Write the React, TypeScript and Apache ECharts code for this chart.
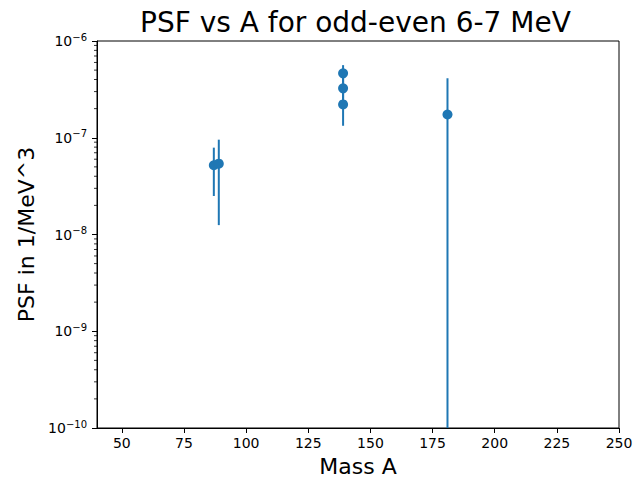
import React, { useEffect, useRef } from "react";
import * as echarts from "echarts";

const A_VALUES = [87, 89, 139, 139, 139, 181];
const PSF_VALUES = [5.2e-8, 5.4e-8, 4.63e-7, 3.24e-7, 2.21e-7, 1.74e-7];
const PSF_ERRORS = [2.7e-8, 4.15e-8, 1.0e-7, 0.95e-7, 0.88e-7, 2.37e-7];

const X_MIN = 40;
const X_MAX = 250;
const X_TICKS = [50, 75, 100, 125, 150, 175, 200, 225, 250];
const Y_DECADES = [-10, -9, -8, -7, -6];
const MINOR_MULTIPLIERS = [2, 3, 4, 5, 6, 7, 8, 9];

const BLUE = "#1f77b4";
const FONT = "DejaVu Sans";

export default function App() {
  const ref = useRef<HTMLDivElement>(null);

  useEffect(() => {
    if (!ref.current) return;
    const chart = echarts.init(ref.current, null, { renderer: "svg" });

    const yMin = Math.pow(10, Y_DECADES[0]);
    const yMax = Math.pow(10, Y_DECADES[Y_DECADES.length - 1]);
    const yTicks = Y_DECADES.map((e) => Math.pow(10, e));

    const minorTicks: number[][] = [];
    Y_DECADES.slice(0, -1).forEach((e) => {
      MINOR_MULTIPLIERS.forEach((m) => minorTicks.push([X_MIN, m * Math.pow(10, e)]));
    });

    const errData = A_VALUES.map((a, i) => [
      a,
      Math.max(PSF_VALUES[i] - PSF_ERRORS[i], yMin),
      PSF_VALUES[i] + PSF_ERRORS[i],
    ]);
    const pts = A_VALUES.map((a, i) => [a, PSF_VALUES[i]]);

    const option: any = {
      animation: false,
      backgroundColor: "#fff",
      title: {
        text: "PSF vs A for odd-even 6-7 MeV",
        left: 135,
        top: 3,
        textStyle: { fontFamily: FONT, fontSize: 28, fontWeight: "normal", color: "#000" },
      },
      grid: {
        left: 97,
        right: 14,
        top: 41,
        bottom: 52,
        containLabel: false,
        outerBoundsMode: "none",
        show: true,
        borderColor: "#000",
        borderWidth: 1,
        backgroundColor: "transparent",
      },
      xAxis: {
        type: "value",
        min: X_MIN,
        max: X_MAX,
        name: "Mass A",
        nameLocation: "middle",
        nameGap: 27,
        nameTextStyle: { fontFamily: FONT, fontSize: 22, color: "#000" },
        axisLine: { show: true, lineStyle: { color: "#000", width: 1 } },
        axisTick: { show: true, length: 5, customValues: X_TICKS, lineStyle: { color: "#000", width: 1 } },
        axisLabel: { customValues: X_TICKS, margin: 8, fontFamily: FONT, fontSize: 14, color: "#000" },
        splitLine: { show: false },
      },
      yAxis: {
        type: "log",
        logBase: 10,
        min: yMin,
        max: yMax,
        name: "PSF in 1/MeV^3",
        nameLocation: "middle",
        nameGap: 55,
        nameTextStyle: { fontFamily: FONT, fontSize: 22, color: "#000" },
        axisLine: { show: true, lineStyle: { color: "#000", width: 1 } },
        axisTick: { show: true, length: 5, customValues: yTicks, lineStyle: { color: "#000", width: 1 } },
        axisLabel: {
          customValues: yTicks,
          margin: 10,
          formatter: (v: number) => {
            const e = Math.round(Math.log10(v));
            return "{b|10}{s|" + (e < 0 ? "\u2212" + Math.abs(e) : String(e)) + "}";
          },
          rich: {
            b: { fontFamily: FONT, fontSize: 14, color: "#000" },
            s: { fontFamily: FONT, fontSize: 10, color: "#000", padding: [0, 0, 8, 0] },
          },
        },
        splitLine: { show: false },
      },
      series: [
        {
          type: "custom",
          silent: true,
          clip: false,
          data: minorTicks,
          renderItem: (params: any, api: any) => {
            const p = api.coord([api.value(0), api.value(1)]);
            return {
              type: "line",
              shape: { x1: p[0] - 3, y1: p[1], x2: p[0], y2: p[1] },
              style: { stroke: "#000", lineWidth: 0.8 },
            };
          },
        },
        {
          type: "custom",
          silent: true,
          clip: true,
          data: errData,
          renderItem: (params: any, api: any) => {
            const lo = api.coord([api.value(0), api.value(1)]);
            const hi = api.coord([api.value(0), api.value(2)]);
            return {
              type: "line",
              shape: { x1: lo[0], y1: lo[1], x2: hi[0], y2: hi[1] },
              style: { stroke: BLUE, lineWidth: 2 },
            };
          },
        },
        {
          type: "scatter",
          data: pts,
          symbol: "circle",
          symbolSize: 10,
          itemStyle: { color: BLUE, opacity: 1 },
        },
      ],
    };

    chart.setOption(option);
    return () => chart.dispose();
  }, []);

  return (
    <div
      ref={ref}
      style={{ position: "fixed", left: 0, top: 0, width: 633, height: 480, background: "#fff" }}
    />
  );
}
